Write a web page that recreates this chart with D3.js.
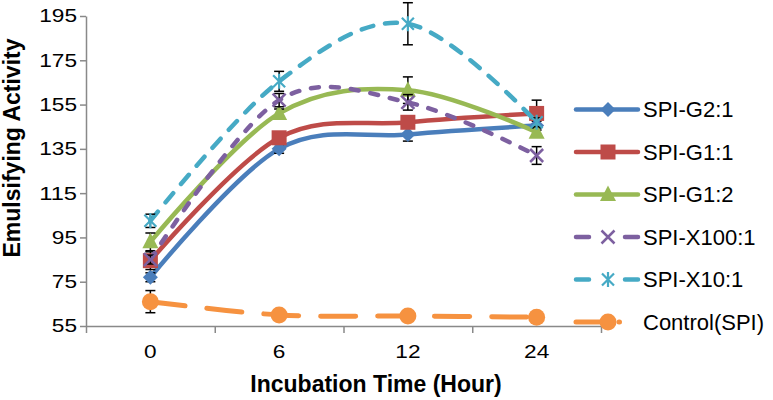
<!DOCTYPE html>
<html>
<head>
<meta charset="utf-8">
<script src="https://cdn.jsdelivr.net/npm/d3@7"></script>
<style>
  body { margin: 0; background: #fff; }
  text { font-family: "Liberation Sans", Arial, sans-serif; fill: #000; }
</style>
</head>
<body>
<svg id="chart" width="773" height="400"></svg>
<script>
// values
const times = ['0', '6', '12', '24'];
const yTicks = [55, 75, 95, 115, 135, 155, 175, 195];
const names = ['SPI-G2:1', 'SPI-G1:1', 'SPI-G1:2', 'SPI-X100:1', 'SPI-X10:1', 'Control(SPI)'];

const spiG21 = [77, 135, 141.5, 145.5];
const spiG21Err = [2, 2, 3, 2];
const spiG11 = [84.5, 140, 147, 151];
const spiG11Err = [4, 2, 2, 6];
const spiG12 = [93, 151, 161.5, 142.5];
const spiG12Err = [4, 2, 6, 2];
const spiX1001 = [85, 157, 156, 132];
const spiX1001Err = [2, 3, 3.5, 4];
const spiX101 = [102.5, 165.5, 191.5, 147];
const spiX101Err = [3, 4.5, 9.5, 2];
const control = [66, 60, 59.5, 59];
const controlErr = [5, 1, 1, 1];

const width = 773, height = 400;
const margin = { top: 16, right: 172, bottom: 74, left: 86 };

const svg = d3.select('#chart');

// built from the arrays above
const series = [
  { name: names[0], values: spiG21, err: spiG21Err, color: '#4A7EBB', marker: 'diamond', dash: null },
  { name: names[1], values: spiG11, err: spiG11Err, color: '#BE4B48', marker: 'square', dash: null },
  { name: names[2], values: spiG12, err: spiG12Err, color: '#98B954', marker: 'triangle', dash: null },
  { name: names[3], values: spiX1001, err: spiX1001Err, color: '#7D60A0', marker: 'x', dash: '8,12', legendDash: '13,36' },
  { name: names[4], values: spiX101, err: spiX101Err, color: '#46AAC5', marker: 'star', dash: '12,12', legendDash: '13,36' },
  { name: names[5], values: control, err: controlErr, color: '#F69240', marker: 'circle', dash: '35,22', legendDash: '30,13,0.5,40', width: 5 }
];

const scaleX = d3.scaleBand()
  .domain(times)
  .range([margin.left, width - margin.right]);

const scaleY = d3.scaleLinear()
  .domain([55, 195])
  .range([height - margin.bottom, margin.top]);

const axisColor = '#898989';

// y axis
const gy = svg.append('g')
  .attr('transform', 'translate(' + margin.left + ',0)')
  .call(d3.axisLeft(scaleY).tickValues(yTicks).tickSize(6).tickSizeOuter(0).tickPadding(3));
gy.select('.domain').attr('stroke', axisColor).attr('stroke-width', 1.5);
gy.selectAll('.tick line').attr('stroke', axisColor).attr('stroke-width', 1.5);
gy.selectAll('.tick text')
  .style('font-size', '18.5px')
  .attr('textLength', d => String(d).length * 12.6)
  .attr('lengthAdjust', 'spacingAndGlyphs');

// x axis: ticks sit between the categories
const boundary = d3.scaleLinear().domain([0, times.length]).range(scaleX.range());
const gxTicks = svg.append('g')
  .attr('transform', 'translate(0,' + (height - margin.bottom) + ')')
  .call(d3.axisBottom(boundary).tickValues(d3.range(times.length + 1)).tickFormat('').tickSize(7).tickSizeOuter(0));
gxTicks.select('.domain').attr('stroke', axisColor).attr('stroke-width', 1.5);
gxTicks.selectAll('.tick line').attr('stroke', axisColor).attr('stroke-width', 1.5);

const gx = svg.append('g')
  .attr('transform', 'translate(0,' + (height - margin.bottom) + ')')
  .call(d3.axisBottom(scaleX).tickSize(0).tickPadding(19));
gx.select('.domain').remove();
gx.selectAll('.tick text')
  .style('font-size', '18.5px')
  .attr('textLength', d => String(d).length * 12.6)
  .attr('lengthAdjust', 'spacingAndGlyphs');

// axis titles
svg.append('text')
  .attr('x', 376)
  .attr('y', 392)
  .attr('text-anchor', 'middle')
  .style('font-size', '23px')
  .style('font-weight', 'bold')
  .text('Incubation Time (Hour)');

svg.append('text')
  .attr('transform', 'translate(20,148) rotate(-90)')
  .attr('text-anchor', 'middle')
  .style('font-size', '23px')
  .style('font-weight', 'bold')
  .text('Emulsifying Activity');

function drawMarker(g, type, color) {
  if (type === 'diamond') {
    g.append('path').attr('d', 'M0,-7.5L7.5,0L0,7.5L-7.5,0Z').attr('fill', color);
  } else if (type === 'square') {
    g.append('rect').attr('x', -7.5).attr('y', -7.5).attr('width', 15).attr('height', 15).attr('fill', color);
  } else if (type === 'triangle') {
    g.append('path').attr('d', 'M0,-9L8,6.5L-8,6.5Z').attr('fill', color);
  } else if (type === 'circle') {
    g.append('circle').attr('r', 8.5).attr('fill', color);
  } else if (type === 'x') {
    g.append('path').attr('d', 'M-6.5,-6.5L6.5,6.5M-6.5,6.5L6.5,-6.5')
      .attr('stroke', color).attr('stroke-width', 2.5).attr('fill', 'none');
  } else if (type === 'star') {
    g.append('path').attr('d', 'M-6,-6L6,6M-6,6L6,-6M0,-7.5L0,7.5')
      .attr('stroke', color).attr('stroke-width', 2.2).attr('fill', 'none');
  }
}

const line = d3.line()
  .x((d, i) => scaleX(times[i]) + scaleX.bandwidth() / 2)
  .y(d => scaleY(d))
  .curve(d3.curveCardinal.tension(0));

series.forEach(s => {
  const g = svg.append('g');

  g.append('path')
    .attr('d', line(s.values))
    .attr('fill', 'none')
    .attr('stroke', s.color)
    .attr('stroke-width', s.width || 4.5)
    .attr('stroke-linecap', 'round')
    .attr('stroke-dasharray', s.dash);

  // error bars
  s.values.forEach((v, i) => {
    const cx = scaleX(times[i]) + scaleX.bandwidth() / 2;
    const e = g.append('g').attr('stroke', '#000').attr('stroke-width', 1.5);
    e.append('line').attr('x1', cx).attr('x2', cx).attr('y1', scaleY(v - s.err[i])).attr('y2', scaleY(v + s.err[i]));
    e.append('line').attr('x1', cx - 5).attr('x2', cx + 5).attr('y1', scaleY(v - s.err[i])).attr('y2', scaleY(v - s.err[i]));
    e.append('line').attr('x1', cx - 5).attr('x2', cx + 5).attr('y1', scaleY(v + s.err[i])).attr('y2', scaleY(v + s.err[i]));
  });

  s.values.forEach((v, i) => {
    const m = g.append('g')
      .attr('transform', 'translate(' + (scaleX(times[i]) + scaleX.bandwidth() / 2) + ',' + scaleY(v) + ')');
    drawMarker(m, s.marker, s.color);
  });
});

// legend
const legend = svg.append('g').attr('transform', 'translate(576,109.5)');
series.forEach((s, i) => {
  const row = legend.append('g').attr('transform', 'translate(0,' + (i * 42.5) + ')');
  row.append('line')
    .attr('x1', 0).attr('x2', 62)
    .attr('stroke', s.color)
    .attr('stroke-width', s.width || 4.5)
    .attr('stroke-linecap', 'round')
    .attr('stroke-dasharray', s.legendDash || null);
  drawMarker(row.append('g').attr('transform', 'translate(32,0)'), s.marker, s.color);
  row.append('text')
    .attr('x', 67)
    .attr('dy', '0.35em')
    .style('font-size', '22px')
    .text(s.name);
});
</script>
</body>
</html>
